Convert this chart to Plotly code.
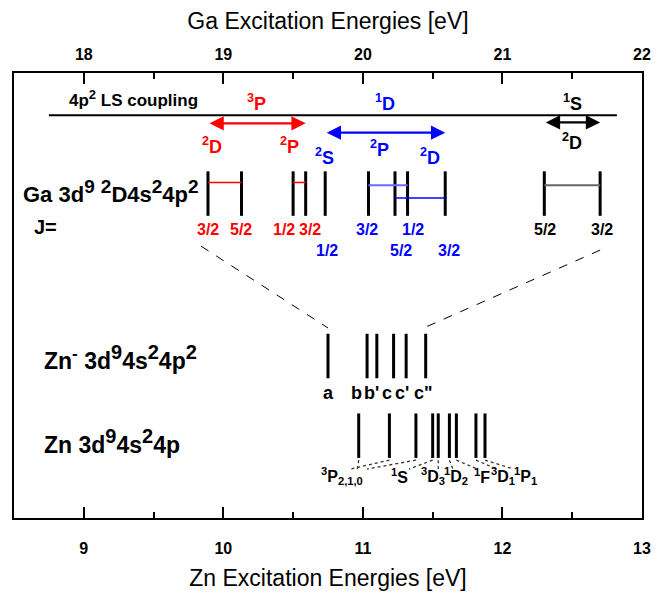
import plotly.graph_objects as go

# ------------------------------------------------------------------ data
ZN_RANGE = [8.5, 13.0]            # bottom axis (Zn excitation energy, eV)
AXIS_OFFSET = 9.0                 # top (Ga) scale = bottom (Zn) scale + 9 eV
zn_tick_vals = [9, 10, 11, 12, 13]
ga_tick_vals = [18, 19, 20, 21, 22]

# Ga 3d9 2D 4s2 4p2 levels (Ga scale, eV)
ga_levels = [18.89, 19.13, 19.50, 19.59, 19.73, 20.04, 20.23, 20.32, 20.59, 21.30, 21.70]
ga_J = ["3/2", "5/2", "1/2", "3/2", "1/2", "3/2", "5/2", "1/2", "3/2", "5/2", "3/2"]
ga_group = ["3P", "3P", "3P", "3P", "1D", "1D", "1D", "1D", "1D", "1S", "1S"]
ga_pairs = [(0, 1), (2, 3), (5, 7), (6, 8), (9, 10)]
ls_terms = ["3P", "1D", "1S"]
ls_line_span = [17.75, 21.82]     # Ga eV

# Zn- 3d9 4s2 4p2 resonances (Zn scale, eV)
znm_levels = [10.75, 11.03, 11.10, 11.22, 11.31, 11.45]
znm_labels = ["a", "b", "b'", "c", "c'", 'c"']

# Zn 3d9 4s2 4p levels (Zn scale, eV)
zn_levels = [10.97, 11.19, 11.38, 11.50, 11.54, 11.62, 11.67, 11.81, 11.875]
zn_term_of_level = [0, 0, 0, 1, 2, 3, 4, 5, 6]
zn_terms = [("3", "P", "2,1,0"), ("1", "S", ""), ("3", "D", "3"), ("1", "D", "2"),
            ("1", "F", ""), ("3", "D", "1"), ("1", "P", "1")]

# ------------------------------------------------------------------ layout / style
FONT = "Liberation Sans, Arial, sans-serif"
RED, BLUE, BLACK = "#ff0000", "#0000ff", "#000000"
group_color = {"3P": RED, "1D": BLUE, "1S": BLACK}
pair_style = [(RED, 1.5, 75.4), (RED, 1.5, 75.4), ("#6a6aff", 2, 74.8), (BLUE, 1.5, 71.9), ("#666666", 2, 74.8)]
BAR_HALF = 5.0
Y_GA, Y_ZNM, Y_ZN = 72.9, 36.4, 18.5
ga_j_row = [0, 0, 0, 0, 1, 0, 1, 0, 1, 0, 0]
ga_j_shift = [0, 0, -9, 4, 2, -1, 6, 5, 4, 1, 2]
J_ROW_Y = [64.8, 60.2]
znm_shift = [0, -11, -5, -7, -4, -2]
zn_term_x = [10.85, 11.265, 11.50, 11.665, 11.85, 12.005, 12.165]   # label centres (Zn eV)
zn_dot_end = [10.96, 10.91, 11.03, 11.33, 11.54, 11.645, 11.82, 11.96, 12.08]

fig = go.Figure()

def sup(s, px=None):
    if px:
        return f"<sup><span style='font-size:{px}px'>{s}</span></sup>"
    return f"<sup>{s}</sup>"

def sub(s):
    return f"<sub>{s}</sub>" if s else ""

def note(x, y, text, size, color=BLACK, xref="x", xanchor="center", xshift=0, bold=True):
    fig.add_annotation(x=x, y=y, xref=xref, yref="y", text=f"<b>{text}</b>" if bold else text,
                       showarrow=False, xanchor=xanchor, yanchor="middle", xshift=xshift,
                       font=dict(family=FONT, size=size, color=color))

def vbars(xs, yc, color, xaxis="x"):
    X, Y = [], []
    for v in xs:
        X += [v, v, None]
        Y += [yc - BAR_HALF, yc + BAR_HALF, None]
    fig.add_trace(go.Scatter(x=X, y=Y, mode="lines", xaxis=xaxis, yaxis="y",
                             line=dict(color=color, width=3), hoverinfo="skip", showlegend=False))

def seg(x, y, color, width, dash="solid", xaxis="x"):
    fig.add_trace(go.Scatter(x=x, y=y, mode="lines", xaxis=xaxis, yaxis="y",
                             line=dict(color=color, width=width, dash=dash),
                             hoverinfo="skip", showlegend=False))

# ---- LS-coupling line and term labels
seg(ls_line_span, [90.5, 90.5], BLACK, 2, xaxis="x2")
note(8.88, 94.3, "4p" + sup("2", 13) + " LS coupling", 17, xanchor="left")
for t in ls_terms:
    lv = [e for e, g in zip(ga_levels, ga_group) if g == t]
    cx = (min(lv) + max(lv)) / 2
    note(cx, 93.4, sup(t[0]) + t[1], 18, group_color[t], xref="x2")
    # double arrow spanning the group
    ay = {"3P": 88.7, "1D": 86.6, "1S": 88.9}[t]
    fig.add_annotation(x=max(lv), y=ay, ax=min(lv), ay=ay, xref="x2", yref="y", axref="x2", ayref="y",
                       text="", showarrow=True, arrowhead=2, startarrowhead=2, arrowside="end+start",
                       arrowsize=1.3, startarrowsize=1.3, arrowwidth=2.2, arrowcolor=group_color[t])

# parent-ion labels
for x, y, L, c in [(18.92, 83.8, "D", RED), (19.475, 83.8, "P", RED), (19.727, 81.2, "S", BLUE),
                   (20.12, 83.1, "P", BLUE), (20.48, 81.2, "D", BLUE), (21.50, 84.5, "D", BLACK)]:
    note(x, y, sup("2") + L, 18, c, xref="x2")

# ---- Ga levels
for g in ls_terms:
    vbars([e for e, gg in zip(ga_levels, ga_group) if gg == g], Y_GA, BLACK, xaxis="x2")
for (i, j), (c, w, y) in zip(ga_pairs, pair_style):
    seg([ga_levels[i], ga_levels[j]], [y, y], c, w, xaxis="x2")
for e, J, g, r, s in zip(ga_levels, ga_J, ga_group, ga_j_row, ga_j_shift):
    note(e, J_ROW_Y[r], J, 16, group_color[g], xref="x2", xshift=s)
note(8.551, 73.4, "Ga 3d" + sup("9", 19) + " " + sup("2", 19) + "D4s" + sup("2", 19) + "4p" + sup("2", 19),
     22, xanchor="left")
note(8.63, 65.3, "J=", 20, xanchor="left")

# ---- dashed correlation lines (Ga range -> Zn- range)
seg([ga_levels[0] - AXIS_OFFSET - 0.05, znm_levels[0]], [61.1, 42.7], BLACK, 1, dash="dash")
seg([ga_levels[-1] - AXIS_OFFSET, znm_levels[-1] - 0.015], [60.2, 42.7], BLACK, 1, dash="dash")

# ---- Zn- resonances
vbars(znm_levels, Y_ZNM, BLACK)
for e, lab, s in zip(znm_levels, znm_labels, znm_shift):
    note(e, 28.1, lab, 18, xshift=s)
note(8.70, 36.1, "Zn" + sup("-", 17) + " 3d" + sup("9", 20) + "4s" + sup("2", 20) + "4p" + sup("2", 20),
     23, xanchor="left")

# ---- Zn levels
vbars(zn_levels, Y_ZN, BLACK)
for e, k, xe in zip(zn_levels, zn_term_of_level, zn_dot_end):
    seg([e, xe], [13.0, 11.0], "#333333", 1.3, dash="dot")
for (m, L, sb), x in zip(zn_terms, zn_term_x):
    note(x, 9.4, sup(m) + L + sub(sb), 16)
note(8.70, 17.3, "Zn 3d" + sup("9", 20) + "4s" + sup("2", 20) + "4p", 23, xanchor="left")

# ------------------------------------------------------------------ axes
# the page body adds an 8 px offset, so the figure is 8 px smaller and margins are shifted
tickfont = dict(family=FONT, size=16, color=BLACK, weight="bold")
fig.update_layout(
    width=657, height=585,
    margin=dict(l=6, r=23, t=65, b=68),
    paper_bgcolor="white", plot_bgcolor="white",
    showlegend=False,
    xaxis=dict(range=ZN_RANGE, tickmode="array", tickvals=zn_tick_vals,
               ticks="inside", ticklen=11, tickwidth=2, tickcolor=BLACK,
               minor=dict(ticks="inside", ticklen=6, tickwidth=2, tickcolor=BLACK, dtick=0.5, tick0=9),
               showline=True, linewidth=2, linecolor=BLACK, mirror="ticks",
               showgrid=False, zeroline=False, tickfont=tickfont, ticklabelstandoff=15,
               title=dict(text="Zn Excitation Energies [eV]", font=dict(family=FONT, size=23, color=BLACK),
                          standoff=14)),
    xaxis2=dict(range=[ZN_RANGE[0] + AXIS_OFFSET, ZN_RANGE[1] + AXIS_OFFSET], overlaying="x", side="top",
                anchor="y", tickmode="array", tickvals=ga_tick_vals, ticks="", showline=False,
                showgrid=False, zeroline=False, tickfont=tickfont, ticklabelstandoff=9,
                title=dict(text="Ga Excitation Energies [eV]", font=dict(family=FONT, size=23, color=BLACK),
                           standoff=14)),
    yaxis=dict(range=[0, 100], showline=True, linewidth=2, linecolor=BLACK, mirror=True,
               ticks="", showticklabels=False, showgrid=False, zeroline=False),
)

fig.write_html("out.html")
